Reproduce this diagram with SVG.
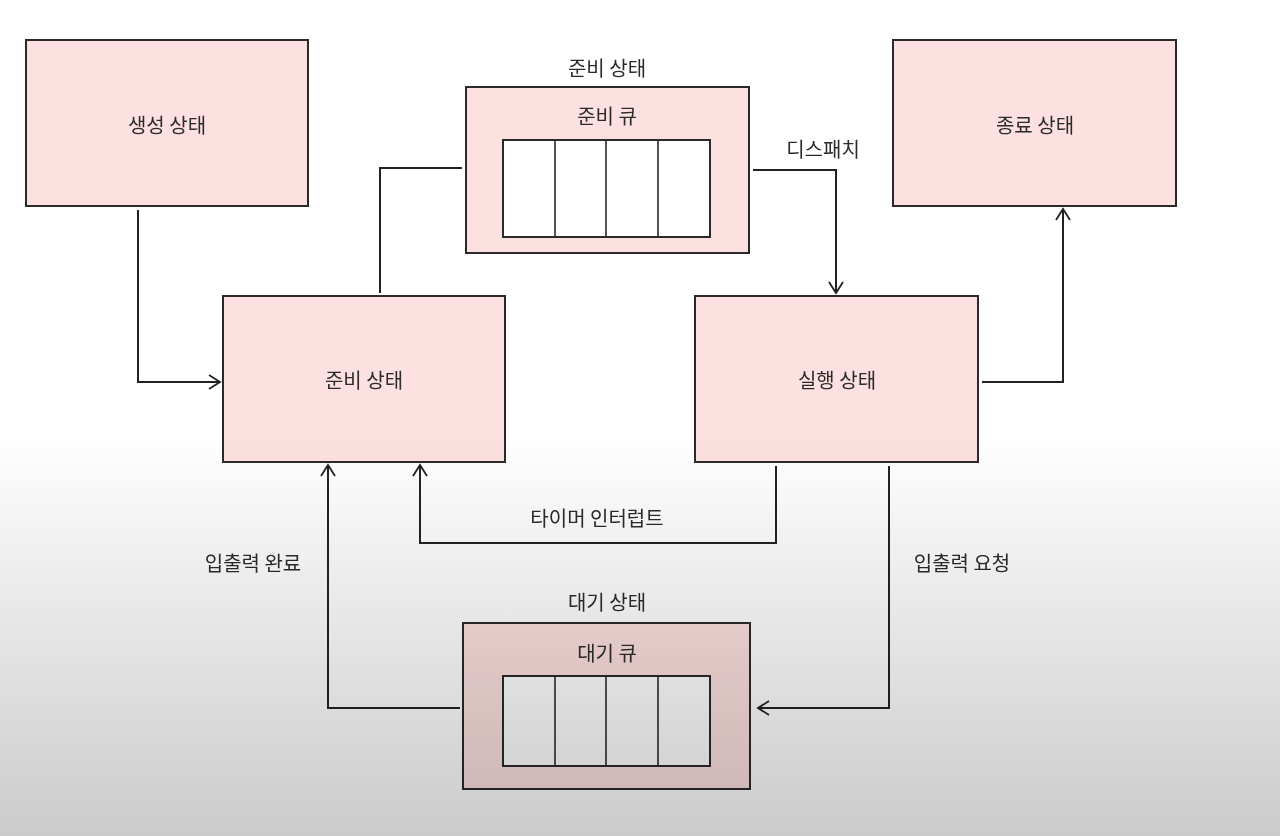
<svg xmlns="http://www.w3.org/2000/svg" width="1280" height="836" viewBox="0 0 1280 836">
<defs>
<linearGradient id="shade" x1="0" y1="0" x2="0" y2="836" gradientUnits="userSpaceOnUse">
<stop offset="0" stop-color="#ffffff"/>
<stop offset="0.52" stop-color="#ffffff"/>
<stop offset="0.75" stop-color="#e6e6e6"/>
<stop offset="1" stop-color="#cbcbcb"/>
</linearGradient>
<marker id="arr" viewBox="0 0 16 16" refX="14" refY="8" markerWidth="16" markerHeight="16" markerUnits="userSpaceOnUse" orient="auto">
<path d="M3,1 L14,8 L3,15" fill="none" stroke="#222" stroke-width="1.8"/>
</marker>
<style>
.box{fill:#fde1e0;stroke:#2a2a2a;stroke-width:2}
.q{fill:#ffffff;stroke:#2a2a2a;stroke-width:2}
.cell{stroke:#2a2a2a;stroke-width:1.6}
.lbl{font-family:"Noto Sans CJK KR","Noto Sans",sans-serif;font-size:20px;fill:#2b2b2b;text-anchor:middle;dominant-baseline:central}
.con{fill:none;stroke:#222;stroke-width:2}
</style>
</defs>
<rect width="1280" height="836" fill="#ffffff"/>

<g id="new">
<rect class="box" x="26" y="40" width="282" height="166"/>
<text class="lbl" x="167" y="124">생성 상태</text>
</g>
<g id="terminated">
<rect class="box" x="893" y="40" width="283" height="166"/>
<text class="lbl" x="1035" y="124">종료 상태</text>
</g>
<g id="ready-queue">
<text class="lbl" x="607" y="67">준비 상태</text>
<rect class="box" x="466" y="87" width="283" height="166"/>
<text class="lbl" x="607" y="115">준비 큐</text>
<rect class="q" x="503" y="140" width="207" height="97"/>
<line class="cell" x1="555" y1="140" x2="555" y2="237"/>
<line class="cell" x1="606" y1="140" x2="606" y2="237"/>
<line class="cell" x1="658" y1="140" x2="658" y2="237"/>
</g>
<g id="ready">
<rect class="box" x="223" y="296" width="282" height="166"/>
<text class="lbl" x="364" y="379">준비 상태</text>
</g>
<g id="running">
<rect class="box" x="695" y="296" width="283" height="166"/>
<text class="lbl" x="837" y="379">실행 상태</text>
</g>
<g id="waiting-queue">
<text class="lbl" x="607" y="601">대기 상태</text>
<rect class="box" x="463" y="623" width="287" height="166"/>
<text class="lbl" x="607" y="652">대기 큐</text>
<rect class="q" x="503" y="676" width="207" height="90"/>
<line class="cell" x1="555" y1="676" x2="555" y2="766"/>
<line class="cell" x1="606" y1="676" x2="606" y2="766"/>
<line class="cell" x1="658" y1="676" x2="658" y2="766"/>
</g>

<g id="connectors">
<path class="con" d="M138,210 V382 H220" marker-end="url(#arr)"/>
<path class="con" d="M380,293 V168 H462"/>
<path class="con" d="M753,170 H836 V293" marker-end="url(#arr)"/>
<path class="con" d="M982,382 H1063 V209" marker-end="url(#arr)"/>
<path class="con" d="M776,466 V543 H420 V465" marker-end="url(#arr)"/>
<path class="con" d="M889,466 V708 H758" marker-end="url(#arr)"/>
<path class="con" d="M460,708 H328 V465" marker-end="url(#arr)"/>
<text class="lbl" x="823" y="148">디스패치</text>
<text class="lbl" x="597" y="517">타이머 인터럽트</text>
<text class="lbl" x="253" y="562">입출력 완료</text>
<text class="lbl" x="962" y="562">입출력 요청</text>
</g>

<rect width="1280" height="836" fill="url(#shade)" style="mix-blend-mode:multiply" pointer-events="none"/>
</svg>
